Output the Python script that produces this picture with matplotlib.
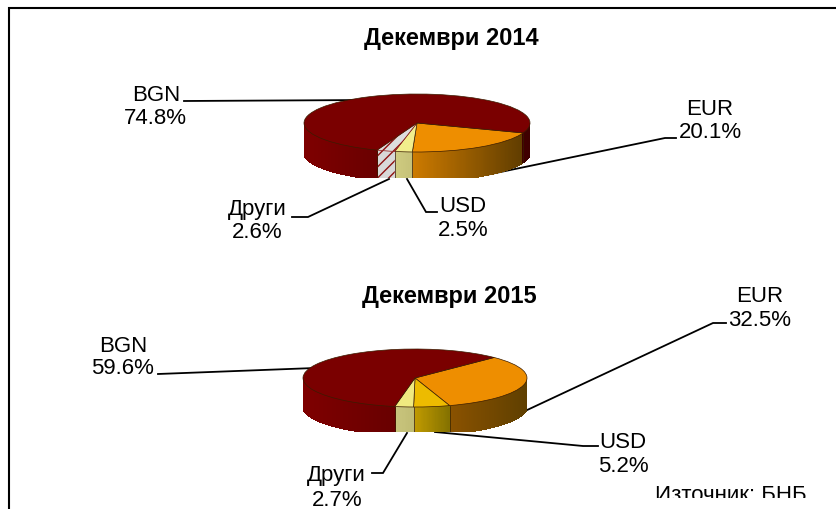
import numpy as np
import matplotlib
matplotlib.use('Agg')
import matplotlib.pyplot as plt
from matplotlib.patches import Rectangle

plt.rcParams['font.family'] = ['Liberation Sans', 'DejaVu Sans']
plt.rcParams['hatch.linewidth'] = 1.0

W, H = 837, 509

# clockwise from the start angle
names = ['EUR', 'USD', 'Други', 'BGN']
values_2014 = [20.1, 2.5, 2.6, 74.8]
values_2015 = [32.5, 5.2, 2.7, 59.6]

colors_2014 = ['#EE8E00', '#F2EE8C', '#DDDDDD', '#7A0000']
colors_2015 = ['#EE8E00', '#EDBB00', '#F0EA80', '#7A0000']

# side wall shade, left to right
shades_2014 = [('#CC7A00', '#5E3C00'), ('#CFCB80', '#C4C078'), ('#D8D8D8', '#D8D8D8'), ('#7E0000', '#3E0000')]
shades_2015 = [('#8A5200', '#5E3F00'), ('#C09A00', '#827000'), ('#C8C47C', '#C0BC74'), ('#7E0000', '#680000')]


fig = plt.figure(figsize=(W / 100, H / 100), dpi=100)
bg = fig.add_axes([0, 0, 1, 1])
bg.set_xlim(0, W)
bg.set_ylim(H, 0)
bg.axis('off')


def draw_pie(cx, cy, a, b, depth, values, colors, shades, start, hatch_idx=None):
    pos = [(cx - a) / W, 1 - (cy + b + depth) / H, 2 * a / W, (b * 2 + depth) / H]
    ax = fig.add_axes(pos)
    ax.patch.set_alpha(0)
    wedges, _ = ax.pie(values, colors=colors, startangle=start, counterclock=False, radius=1,
                       wedgeprops={'edgecolor': '#3a1c00', 'linewidth': 0.5})
    ax.set_aspect('auto')
    ax.set_xlim(-1, 1)
    ax.set_ylim(-1 - depth / b, 1)
    ax.axis('off')
    for w in wedges:
        w.set_clip_on(False)
        w.set_zorder(5)

    d = (depth + 3) / b
    ang = start
    for i, v in enumerate(values):
        end = ang - v * 3.6
        t = np.radians(np.linspace(ang, end, max(int(v * 6), 8)))
        front = np.sin(t) < 0.001
        if front.any():
            xs = np.cos(t[front])
            lo, hi = xs.min(), xs.max()
            c0 = np.array(matplotlib.colors.to_rgb(shades[i][0]))
            c1 = np.array(matplotlib.colors.to_rgb(shades[i][1]))
            idx = np.where(front)[0]
            for j, k in zip(idx[:-1], idx[1:]):
                if k != j + 1:
                    continue
                x1, x2 = np.cos(t[j]), np.cos(t[k])
                y1, y2 = np.sin(t[j]), np.sin(t[k])
                f = ((x1 + x2) / 2 - lo) / max(hi - lo, 1e-6)
                ax.fill([x1, x2, x2, x1], [y1, y2, y2 - d, y1 - d], color=c0 + (c1 - c0) * f,
                        lw=0.9, antialiased=False, zorder=2)
            if i == hatch_idx:
                x = np.cos(t[front])
                y = np.sin(t[front])
                ax.fill(np.r_[x, x[::-1]], np.r_[y, (y - d)[::-1]], facecolor='none',
                        edgecolor='#8E1010', hatch='///', lw=0, zorder=3)
        for e in (ang, end):
            if np.sin(np.radians(e)) < 0:
                ex, ey = np.cos(np.radians(e)), np.sin(np.radians(e))
                ax.plot([ex, ex], [ey, ey - d], color='#3a1c00', lw=0.5, zorder=4, alpha=0.7)
        ang = end
    if hatch_idx is not None:
        wedges[hatch_idx].set_hatch('///')
        wedges[hatch_idx].set_edgecolor('#8E1010')
    return ax


draw_pie(417, 123, 113, 29, 26, values_2014, colors_2014, shades_2014, -20, hatch_idx=2)
draw_pie(415, 378, 112, 29, 25, values_2015, colors_2015, shades_2015, 45)

# frame, no right or bottom side
bg.plot([9, 9], [H, 7], color='black', lw=1.5, solid_capstyle='butt')
bg.plot([8, 836], [8, 8], color='black', lw=1.5, solid_capstyle='butt')

# leader lines
leaders = [
    ([184, 368], [101, 100]),
    ([676, 665, 486], [138, 138, 175]),
    ([407, 426, 437], [179, 212, 212]),
    ([389, 308, 292], [179, 217, 217]),
    ([158, 315], [374, 368]),
    ([726, 713, 525], [323, 323, 411]),
    ([598, 583, 435], [446, 446, 432]),
    ([407, 383, 372], [433, 473, 473]),
]
for lx, ly in leaders:
    bg.plot(lx, ly, color='black', lw=1.3, solid_joinstyle='miter')

label_kw = dict(ha='center', va='center', fontsize=16, color='black')
bg.text(451, 38, 'Декември 2014', ha='center', va='center', fontsize=17, fontweight='bold')
bg.text(449, 296, 'Декември 2015', ha='center', va='center', fontsize=17, fontweight='bold')

labels = [
    (156, 95, 'BGN'), (155, 118, '74.8%'),
    (710, 109, 'EUR'), (710, 133, '20.1%'),
    (257, 210, names[2]), (257, 233, '2.6%'),
    (463, 206, 'USD'), (463, 230, '2.5%'),
    (123, 346, 'BGN'), (123, 369, '59.6%'),
    (760, 296, 'EUR'), (760, 320, '32.5%'),
    (623, 443, 'USD'), (623, 466, '5.2%'),
    (336, 476, names[2]), (337, 500, '2.7%'),
]
for x, y, s in labels:
    bg.text(x, y, s, **label_kw)

src = bg.text(734, 501, 'Източник: БНБ.', ha='center', va='baseline', fontsize=16, clip_on=True)
src.set_clip_path(Rectangle((600, 470), 237, 28, transform=bg.transData))

fig.savefig('out.png', dpi=100)
